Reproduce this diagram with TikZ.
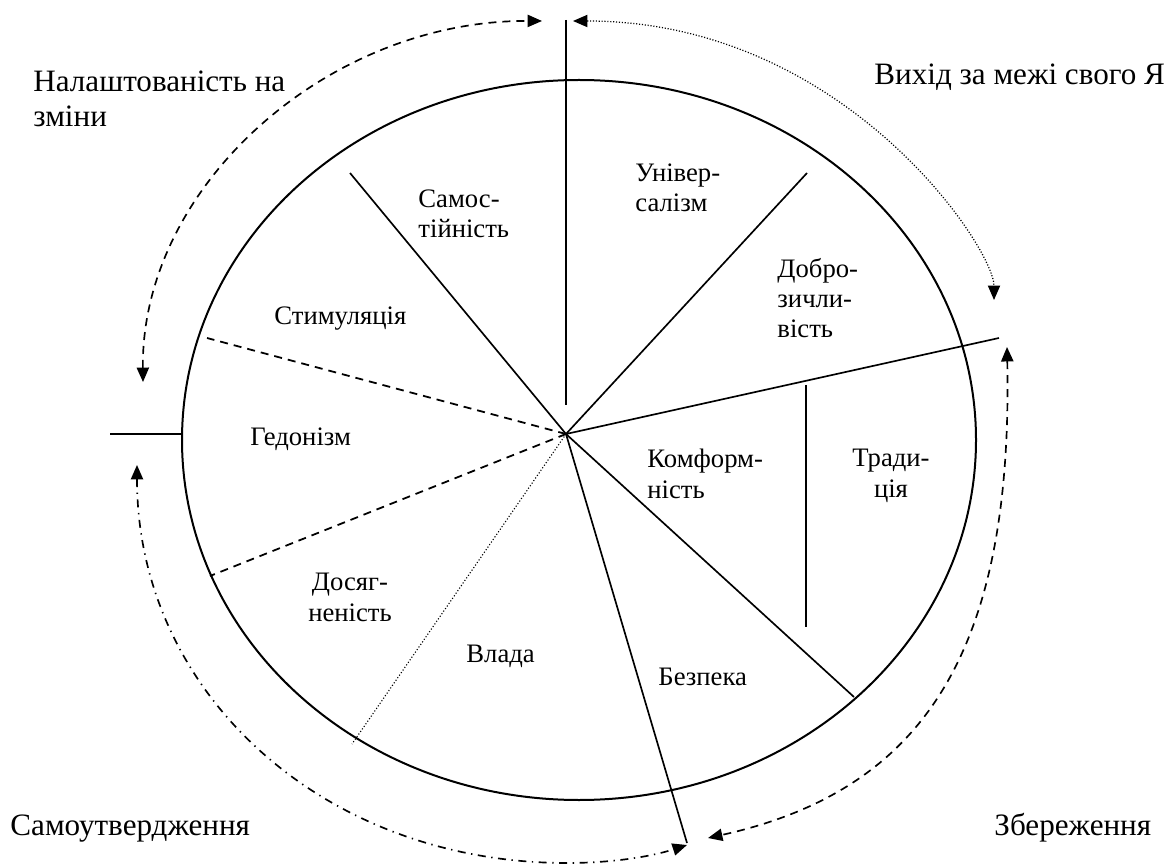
\documentclass[tikz,border=0pt]{standalone}
\usepackage{fontspec}
\setmainfont{Liberation Serif}
\usetikzlibrary{arrows.meta}
\tikzset{
  valtext/.style={font=\fontsize{12}{13.6}\selectfont, inner sep=0pt, align=left},
  grouptext/.style={font=\fontsize{14}{15.8}\selectfont, inner sep=0pt, align=left},
  spoke/.style={line width=0.75pt},
  dashspoke/.style={line width=0.8pt, dash pattern=on 3.6pt off 2.7pt},
  dotspoke/.style={line width=0.5pt, dash pattern=on 0.5pt off 0.9pt},
  sweep/.style={line width=0.75pt, {Triangle[length=6.5pt,width=5.5pt]}-{Triangle[length=6.5pt,width=5.5pt]}},
}
\begin{document}
\begin{tikzpicture}[x=0.45pt,y=-0.45pt]
        \useasboundingbox (0,0) rectangle (1175,865);
        %% Circle
        \draw[line width=0.9pt] (579,440) ellipse [x radius=397, y radius=360];
        %% Spokes
        \coordinate (c)     at (566,434);
        \coordinate (top)   at (566,20);
        \coordinate (topin) at (566,405);
        \coordinate (sam)   at (350,173);
        \coordinate (uni)   at (807,173);
        \coordinate (trd)   at (999,338);
        \coordinate (bez)   at (854,697);
        \coordinate (vla)   at (687,843);
        \coordinate (dos)   at (352,744);
        \coordinate (ged)   at (210,576);
        \coordinate (sti)   at (207,338);
        \coordinate (lout)  at (110,434);
        \coordinate (lin)   at (182,434);
        \coordinate (trtop) at (806,385);
        \coordinate (trbot) at (806,627);
        \draw[spoke] (top) -- (topin);
        \draw[spoke] (sam) -- (c);
        \draw[spoke] (c) -- (uni);
        \draw[spoke] (c) -- (trd);
        \draw[spoke] (c) -- (bez);
        \draw[spoke] (c) -- (vla);
        \draw[dotspoke] (c) -- (dos);
        \draw[dashspoke] (c) -- (ged);
        \draw[dashspoke] (c) -- (sti);
        \draw[spoke] (lout) -- (lin);
        \draw[spoke] (trtop) -- (trbot);
        %% Arcs
        \coordinate (a1) at (143,382);  \coordinate (a2) at (542,21);
        \coordinate (b1) at (573,21);   \coordinate (b2) at (994,300);
        \coordinate (d1) at (1007,347); \coordinate (d2) at (708,838);
        \coordinate (e1) at (137,465);  \coordinate (e2) at (687,845);
        \draw[sweep, dash pattern=on 3.6pt off 2.7pt]
            (a1) .. controls (141,186) and (328,20) .. (a2);
        \draw[sweep, line width=0.55pt, dash pattern=on 0.5pt off 0.8pt]
            (b1) .. controls (844,21) and (994,248) .. (b2);
        \draw[sweep, dash pattern=on 3.6pt off 2.7pt]
            (d1) .. controls (1013,650) and (925,790) .. (d2);
        \draw[sweep, dash pattern=on 3.6pt off 2.5pt on 0.6pt off 2.5pt]
            (e1) .. controls (137,692) and (322,863) .. (567,863)
                 .. controls (610,863) and (650,857) .. (e2);
        %% Values (base = last line)
        \node[valtext, anchor=base west] (samost) at (418,238) {Самос-\\тійність};
        \node[valtext, anchor=base west] (univ)   at (635,212) {Універ-\\салізм};
        \node[valtext, anchor=base west] (dobro)  at (777,338) {Добро-\\зичли-\\вість};
        \node[valtext, anchor=base west] (stym)   at (274,325) {Стимуляція};
        \node[valtext, anchor=base west] (hedon)  at (250,446) {Гедонізм};
        \node[valtext, anchor=base, align=center] (dosyag) at (350,621) {Досяг-\\неність};
        \node[valtext, anchor=base west] (vlada)  at (466,662) {Влада};
        \node[valtext, anchor=base west] (bezp)   at (658,685) {Безпека};
        \node[valtext, anchor=base west] (konf)   at (647,498) {Комформ-\\ність};
        \node[valtext, anchor=base, align=center] (trad) at (891,497) {Тради-\\ція};
        %% Groups
        \node[grouptext, anchor=base west] (change)  at (33,127)  {Налаштованість на\\зміни};
        \node[grouptext, anchor=base west] (transc)  at (874,85)  {Вихід за межі свого Я};
        \node[grouptext, anchor=base west] (enhance) at (10,835)  {Самоутвердження};
        \node[grouptext, anchor=base west] (conserv) at (994,835) {Збереження};
\end{tikzpicture}
\end{document}
